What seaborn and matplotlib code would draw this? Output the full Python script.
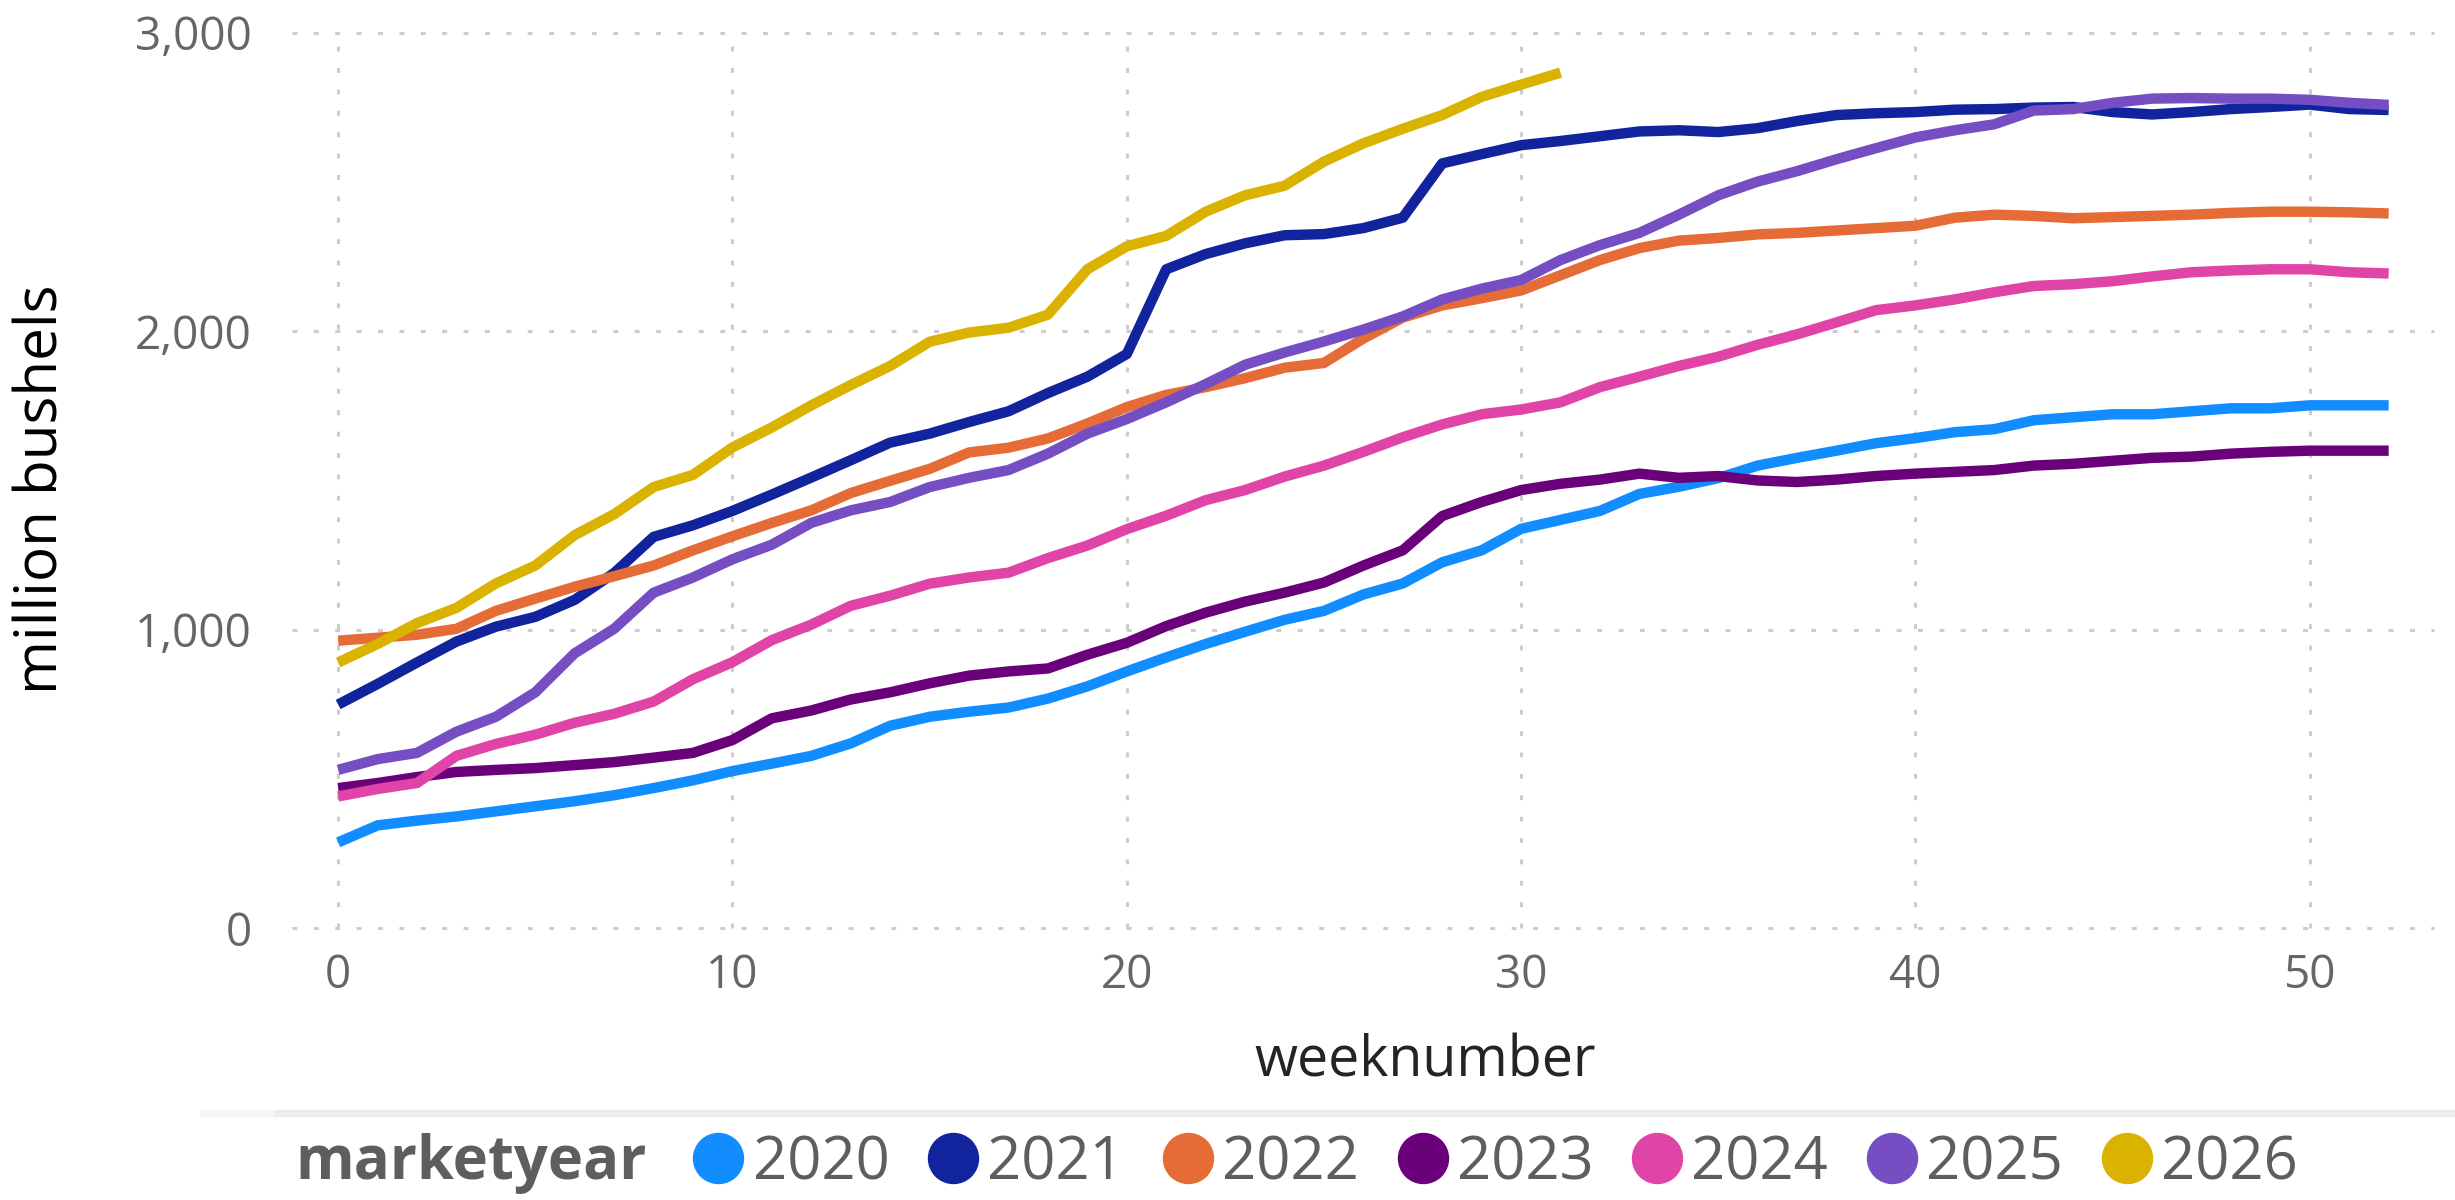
import numpy as np
import pandas as pd
import matplotlib
matplotlib.use("Agg")
import matplotlib.pyplot as plt
from matplotlib.lines import Line2D
from matplotlib.patches import Rectangle
from matplotlib.ticker import FuncFormatter
import seaborn as sns

# cumulative values (million bushels) by week of the marketing year
years = ['2020', '2021', '2022', '2023', '2024', '2025', '2026']
colors = ['#118DFF', '#12239E', '#E66C37', '#6B007B', '#E044A7', '#744EC2', '#D9B300']

my2020 = [287, 344, 360, 374, 391, 408, 425, 445, 469, 495, 526, 551, 577, 619, 678, 708, 725, 739,
          769, 810, 860, 907, 952, 993, 1033, 1063, 1118, 1155, 1226, 1266, 1338, 1368, 1398, 1455,
          1479, 1508, 1550, 1576, 1600, 1625, 1642, 1662, 1672, 1702, 1712, 1722, 1722, 1732, 1742,
          1742, 1752, 1752, 1752]
my2021 = [749, 818, 890, 960, 1010, 1043, 1100, 1190, 1311, 1350, 1398, 1453, 1510, 1568, 1627, 1657,
          1696, 1732, 1793, 1848, 1924, 2208, 2259, 2295, 2322, 2326, 2346, 2381, 2563, 2594, 2624,
          2638, 2654, 2670, 2674, 2668, 2681, 2705, 2725, 2731, 2735, 2743, 2745, 2750, 2752, 2735,
          2727, 2735, 2745, 2752, 2760, 2745, 2742]
my2022 = [963, 973, 983, 1003, 1063, 1104, 1144, 1179, 1215, 1266, 1313, 1358, 1400, 1458, 1499, 1539,
          1594, 1610, 1641, 1691, 1746, 1787, 1813, 1843, 1878, 1894, 1976, 2046, 2087, 2111, 2137,
          2188, 2239, 2279, 2304, 2313, 2325, 2330, 2338, 2346, 2354, 2381, 2391, 2387, 2379, 2383,
          2387, 2391, 2397, 2401, 2401, 2399, 2395]
my2023 = [469, 486, 506, 523, 530, 536, 546, 556, 571, 587, 630, 703, 729, 766, 790, 820, 846, 860,
          870, 916, 956, 1012, 1057, 1094, 1124, 1158, 1215, 1266, 1381, 1428, 1468, 1489, 1503, 1523,
          1509, 1515, 1500, 1495, 1503, 1515, 1523, 1529, 1535, 1550, 1556, 1566, 1576, 1580, 1590,
          1596, 1600, 1600, 1600]
my2024 = [441, 466, 486, 577, 617, 648, 688, 718, 759, 834, 891, 965, 1017, 1080, 1114, 1154, 1175,
          1191, 1240, 1282, 1337, 1382, 1434, 1468, 1513, 1550, 1596, 1645, 1688, 1722, 1738, 1762,
          1813, 1848, 1884, 1915, 1955, 1990, 2030, 2071, 2087, 2107, 2131, 2152, 2158, 2168, 2184,
          2198, 2204, 2208, 2208, 2198, 2194]
my2025 = [530, 566, 587, 658, 708, 790, 921, 1003, 1124, 1175, 1236, 1285, 1358, 1400, 1428, 1478,
          1509, 1535, 1590, 1657, 1706, 1762, 1823, 1888, 1929, 1966, 2006, 2050, 2107, 2143, 2172,
          2239, 2289, 2330, 2391, 2456, 2502, 2537, 2577, 2614, 2650, 2674, 2694, 2740, 2745, 2766,
          2780, 2782, 2780, 2780, 2776, 2766, 2759]
my2026 = [890, 952, 1022, 1073, 1155, 1215, 1317, 1387, 1478, 1519, 1611, 1678, 1752, 1820, 1884,
          1965, 1996, 2012, 2056, 2208, 2285, 2320, 2401, 2456, 2488, 2569, 2630, 2679, 2725, 2786,
          2827, 2867]

week_ticks = [0, 10, 20, 30, 40, 50]
value_ticks = [0, 1000, 2000, 3000]

series = [my2020, my2021, my2022, my2023, my2024, my2025, my2026]
frames = []
for yr, vals in zip(years, series):
    frames.append(pd.DataFrame({'weeknumber': np.arange(len(vals)), 'value': vals, 'marketyear': yr}))
df = pd.concat(frames, ignore_index=True)

sns.set_style('white')
plt.rcParams['font.family'] = ['Open Sans', 'DejaVu Sans']

W, H = 2455, 1200
fig = plt.figure(figsize=(W / 100, H / 100), dpi=100)
ax = fig.add_axes([292 / W, 1 - 928 / H, (2434 - 292) / W, (928 - 33) / H])

sns.lineplot(data=df, x='weeknumber', y='value', hue='marketyear',
             palette=dict(zip(years, colors)), linewidth=7.5, ax=ax, legend=False,
             solid_joinstyle='round', solid_capstyle='butt')

ax.set_xlim(-1.17, 53.15)
ax.set_ylim(0, 3000)
ax.set_xticks(week_ticks)
ax.set_yticks(value_ticks)
ax.yaxis.set_major_formatter(FuncFormatter(lambda v, p: f'{v:,.0f}'))
ax.set_axisbelow(True)
ax.grid(True, color='#cccccc', linewidth=2.2, linestyle=(0, (1.6, 5.4)))
for gl in ax.get_xgridlines() + ax.get_ygridlines():
    gl.set_clip_on(False)
sns.despine(ax=ax, left=True, bottom=True)
ax.tick_params(length=0, labelsize=33, labelcolor='#666666')
ax.tick_params(axis='y', pad=29)
ax.tick_params(axis='x', pad=18)

ax.set_xlabel('weeknumber', fontsize=40, color='#252423')
ax.xaxis.label.set_va('center')
ax.xaxis.set_label_coords((1425 - 292) / 2142, (928 - 1062) / 895)
ax.set_ylabel('million bushels', fontsize=42, color='black')
ax.yaxis.label.set_va('center')
ax.yaxis.set_label_coords((42 - 292) / 2142, (928 - 489) / 895)

# separator above the legend
fig.patches.append(Rectangle((200 / W, 1 - 1116 / H), 75 / W, 6 / H,
                             transform=fig.transFigure, color='#f6f6f6', zorder=0))
fig.patches.append(Rectangle((275 / W, 1 - 1116 / H), 1 - 275 / W, 6 / H,
                             transform=fig.transFigure, color='#efedeb', zorder=0))

fig.text(295 / W, 1 - 1163 / H, 'marketyear', fontsize=43, fontweight='bold',
         color='#605E5C', ha='left', va='center')
handles = [Line2D([], [], linestyle='', marker='o', markersize=36,
                  markerfacecolor=c, markeredgecolor=c) for c in colors]
fig.legend(handles, years, loc='center left', bbox_to_anchor=(693 / W, 1 - 1163 / H),
           ncol=7, frameon=False, fontsize=43, handlelength=0.85, handletextpad=0.15,
           columnspacing=0.64, borderpad=0, borderaxespad=0, labelcolor='#605E5C')

fig.savefig('out.png', dpi=100)
plt.close(fig)
